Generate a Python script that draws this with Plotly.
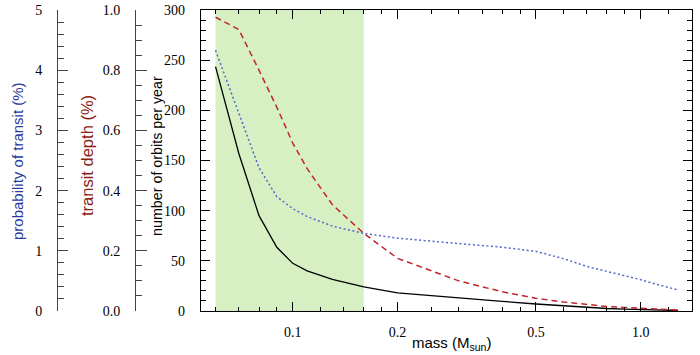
import plotly.graph_objects as go
import math

# ---- data ----
mass = [0.06, 0.07, 0.08, 0.09, 0.10, 0.11, 0.13, 0.16, 0.2, 0.3, 0.4, 0.5,
        0.6, 0.7, 0.8, 0.9, 1.0, 1.1, 1.2, 1.28]
orbits_per_year = [243.5, 157, 95, 63.5, 47.5, 40, 31.5, 24, 18, 12.8, 9.6, 7,
                   5, 3.5, 2.5, 1.8, 1.2, 0.9, 0.6, 0.5]
transit_depth = [0.976, 0.935, 0.80, 0.677, 0.558, 0.473, 0.353, 0.258, 0.175,
                 0.100, 0.064, 0.042, 0.030, 0.021, 0.015, 0.012, 0.009,
                 0.0067, 0.0047, 0.0033]
transit_prob = [4.33, 3.28, 2.38, 1.90, 1.70, 1.57, 1.41, 1.29, 1.21, 1.12,
                1.06, 0.99, 0.87, 0.74, 0.66, 0.58, 0.52, 0.45, 0.39, 0.35]
highlight_range = [0.06, 0.16]
x_major = [0.1, 0.2, 0.5, 1.0]
x_major_text = ["0.1", "0.2", "0.5", "1.0"]
x_minor = [0.06, 0.07, 0.08, 0.09, 0.12, 0.14, 0.16, 0.18, 0.25, 0.3, 0.35,
           0.4, 0.45, 0.6, 0.7, 0.8, 0.9, 1.2]

W, H = 700, 355
# targets in page pixels
P_LEFT_AREA, P_PLOT_L, P_PLOT_R, P_TOP, P_BOT = 10, 201, 692, 10, 311
ML = P_LEFT_AREA
MT = P_TOP
MR = W - P_PLOT_R
MB = H - P_BOT
pw = W - ML - MR
ph = H - MT - MB


def px(xp):
    return (xp - ML) / pw


def py(yp):
    return (P_BOT - yp) / ph


serif = "Liberation Serif, Times New Roman, Times, serif"
sans = "Liberation Sans, Arial, Helvetica, sans-serif"
tickfont = dict(family=serif, size=14, color="black")

fig = go.Figure()

fig.add_trace(go.Scatter(x=mass, y=transit_prob, yaxis="y3", mode="lines",
                         line=dict(color="#5566c8", width=1.5, dash="2px,2.5px"),
                         showlegend=False))
fig.add_trace(go.Scatter(x=mass, y=transit_depth, yaxis="y2", mode="lines",
                         line=dict(color="#c0262b", width=1.5, dash="6px,4px"),
                         showlegend=False))
fig.add_trace(go.Scatter(x=mass, y=orbits_per_year, yaxis="y", mode="lines",
                         line=dict(color="black", width=1.3),
                         showlegend=False))

fig.add_shape(type="rect", xref="x", yref="paper",
              x0=highlight_range[0], x1=highlight_range[1], y0=0, y1=1,
              fillcolor="#d6f0c4", line=dict(width=0), layer="below")

xlo, xhi = 0.0545, 1.404
fig.update_layout(
    width=W, height=H,
    margin=dict(l=ML, r=MR, t=MT, b=MB, autoexpand=False),
    paper_bgcolor="white", plot_bgcolor="white",
    xaxis=dict(type="log", domain=[px(P_PLOT_L), 1],
               range=[math.log10(xlo), math.log10(xhi)],
               tickvals=x_major, ticktext=x_major_text,
               ticks="inside", ticklen=9, tickcolor="black", tickwidth=1,
               minor=dict(tickvals=x_minor, ticks="inside", ticklen=4,
                          tickcolor="black", showgrid=False),
               showline=True, linecolor="black", linewidth=1.3,
               mirror="ticks", showgrid=False, zeroline=False,
               tickfont=tickfont, ticklabelstandoff=8, automargin=False,
               ticklabeloverflow="allow"),
    yaxis=dict(range=[0, 300], dtick=50, ticks="inside", ticklen=9,
               tickcolor="black",
               minor=dict(dtick=10, ticks="inside", ticklen=5,
                          tickcolor="black", showgrid=False),
               showline=True, linecolor="black", linewidth=1.3,
               mirror="ticks", showgrid=False, zeroline=False,
               tickfont=tickfont, ticklabelstandoff=12, automargin=False,
               ticklabeloverflow="allow"),
    yaxis2=dict(range=[0, 1], dtick=0.2, tickformat=".1f", overlaying="y",
                anchor="free", position=px(135), side="left",
                ticks="inside", ticklen=11, tickcolor="#444",
                minor=dict(dtick=0.05, ticks="inside", ticklen=6,
                           tickcolor="#444", showgrid=False),
                showline=True, linecolor="#444", linewidth=1,
                showgrid=False, zeroline=False, automargin=False,
                tickfont=tickfont, ticklabelstandoff=12,
                ticklabeloverflow="allow"),
    yaxis3=dict(range=[0, 5], dtick=1, overlaying="y",
                anchor="free", position=px(57), side="left",
                ticks="inside", ticklen=10, tickcolor="#444",
                minor=dict(dtick=0.2, ticks="inside", ticklen=6,
                           tickcolor="#444", showgrid=False),
                showline=True, linecolor="#444", linewidth=1,
                showgrid=False, zeroline=False, automargin=False,
                tickfont=tickfont, ticklabelstandoff=12,
                ticklabeloverflow="allow"),
    annotations=[
        dict(text="probability of transit (%)", x=px(17), y=py(161),
             xref="paper", yref="paper", textangle=-90, showarrow=False,
             xanchor="center", yanchor="middle",
             font=dict(family=sans, size=15, color="#2b3a9c")),
        dict(text="transit depth (%)", x=px(87), y=py(156),
             xref="paper", yref="paper", textangle=-90, showarrow=False,
             xanchor="center", yanchor="middle",
             font=dict(family=sans, size=16.5, color="#8b1c14")),
        dict(text="number of orbits per year", x=px(157), y=py(156),
             xref="paper", yref="paper", textangle=-90, showarrow=False,
             xanchor="center", yanchor="middle",
             font=dict(family=sans, size=14.3, color="black")),
        dict(text="mass (M<sub>sun</sub>)", x=px(451), y=py(343),
             xref="paper", yref="paper", showarrow=False,
             xanchor="center", yanchor="middle",
             font=dict(family=sans, size=15, color="black")),
    ],
)

fig.write_html(
    "out.html",
    config={"displayModeBar": False},
    post_script="document.body.style.margin='0';document.body.style.overflow='hidden';",
)
